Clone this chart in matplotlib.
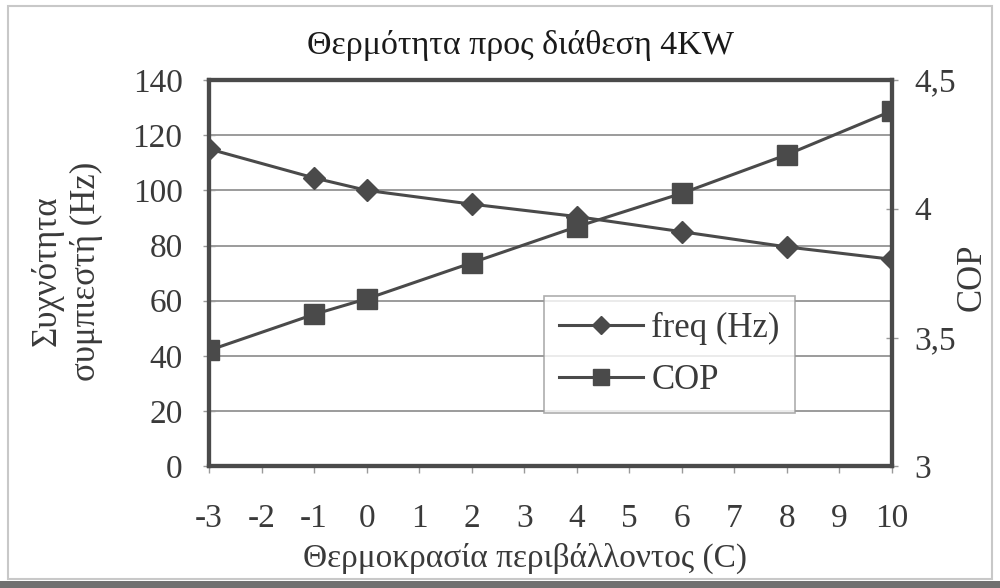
import matplotlib
matplotlib.use("Agg")
import matplotlib.pyplot as plt
from matplotlib.patches import Rectangle

# Data
temps = [-3, -1, 0, 2, 4, 6, 8, 10]
freq_hz = [115, 104.5, 100, 95, 90.5, 85, 79.5, 75]
cop = [3.45, 3.59, 3.65, 3.79, 3.93, 4.06, 4.21, 4.38]

x_ticks = list(range(-3, 11))
left_ticks = [0, 20, 40, 60, 80, 100, 120, 140]
right_ticks = [3, 3.5, 4, 4.5]
right_labels = ["3", "3,5", "4", "4,5"]

title = "Θερμότητα προς διάθεση 4KW"
x_label = "Θερμοκρασία περιβάλλοντος (C)"
y_label = "Συχνότητα\nσυμπιεστή (Hz)"

ink = "#4a4a4a"
text_col = "#3a3a3a"
plt.rcParams['font.family'] = ['Liberation Serif']
plt.rcParams['axes.unicode_minus'] = False

fig = plt.figure(figsize=(10, 5.88), dpi=100)
ax = fig.add_axes([0.209, 0.207, 0.683, 0.657])
ax2 = ax.twinx()

# freq line on left axis
l1, = ax.plot(temps, freq_hz, color=ink, lw=2.2, marker='D', markersize=11,
              markerfacecolor=ink, markeredgecolor=ink, label='freq (Hz)', zorder=3)
# COP on right axis
l2, = ax2.plot(temps, cop, color=ink, lw=2.2, marker='s', markersize=15,
               markerfacecolor=ink, markeredgecolor=ink, label='COP', zorder=3)

ax.set_xlim(-3, 10)
ax.set_ylim(0, 140)
ax2.set_ylim(3, 4.5)
ax.set_xticks(x_ticks)
ax.set_yticks(left_ticks)
ax2.set_yticks(right_ticks)
ax2.set_yticklabels(right_labels)

ax.grid(axis='y', color='#8a8a8a', lw=1.2)
ax.set_axisbelow(True)

for a in (ax, ax2):
    for s in a.spines.values():
        s.set_color(ink)
        s.set_linewidth(3)
    a.tick_params(colors='#9a9a9a', labelcolor=text_col, labelsize=24, length=8, width=1,
                  direction='inout')
ax.tick_params(axis='x', direction='out', length=5, pad=22)
ax.tick_params(axis='y', pad=15)
ax2.tick_params(axis='y', pad=12)

ax.set_title(title, fontsize=24.5, color='#1a1a1a', pad=19, x=0.456)
ax.set_xlabel(x_label, fontsize=24, color=text_col, labelpad=0)
ax.xaxis.set_label_coords(0.463, -0.198)
ax.set_ylabel(y_label, fontsize=25, color=text_col, linespacing=1.25)
ax.yaxis.set_label_coords(-0.155, 0.505)
ax2.set_ylabel("COP", fontsize=25, color=text_col)
ax2.yaxis.set_label_coords(1.093, 0.49)

leg = ax2.legend(handles=[l1, l2], loc='upper left', bbox_to_anchor=(0.49, 0.44),
                 borderaxespad=0, fontsize=25, frameon=True, fancybox=False,
                 handlelength=2.4, handletextpad=0.25, markerscale=0.8,
                 labelspacing=0.55, borderpad=0.45, labelcolor=text_col)
leg.get_frame().set_edgecolor('#9a9a9a')
leg.get_frame().set_linewidth(1.2)

# scanned page frame
fig.patches.append(Rectangle((0.008, 0.015), 0.984, 0.975, transform=fig.transFigure,
                             fill=False, edgecolor='#c8c8c8', lw=1.5))
fig.patches.append(Rectangle((0.0, 0.0), 1.0, 0.012, transform=fig.transFigure,
                             color='#707070', lw=0))

fig.savefig("out.png", dpi=100)
